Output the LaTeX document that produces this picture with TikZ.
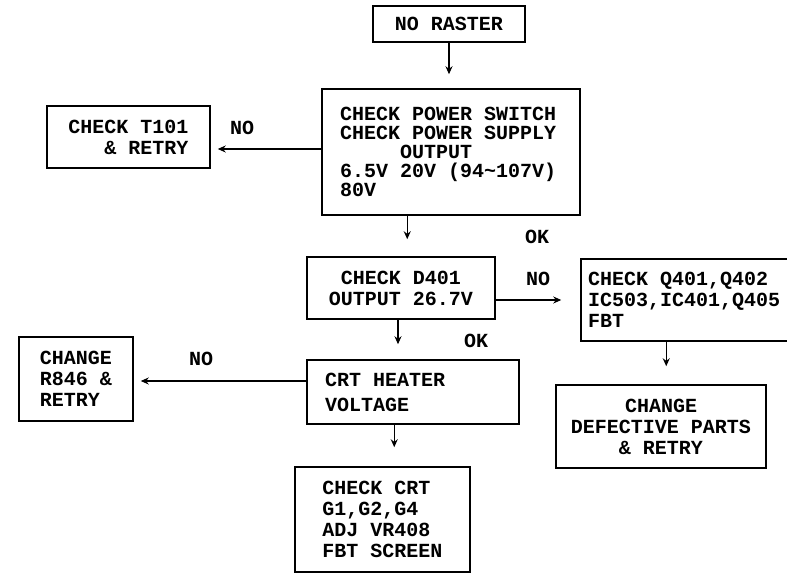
\documentclass[tikz,border=0pt]{standalone}
\usepackage{fontspec}
\setmainfont{Liberation Mono}[WordSpace={1,0,0}]
\usetikzlibrary{arrows.meta,calc}
\newcommand{\monosp}{\spaceskip=0.6em\relax\xspaceskip=0.6em\relax}
\begin{document}
\begin{tikzpicture}[x=1pt,y=-1pt,
  box/.style={draw, line width=1.5pt, inner sep=0pt},
  f19/.style={font=\bfseries\fontsize{20}{19}\selectfont},
  f21/.style={font=\bfseries\fontsize{20}{21}\selectfont},
  f25/.style={font=\bfseries\fontsize{20}{25}\selectfont},
  lbl/.style={font=\bfseries\fontsize{20}{20}\selectfont, inner sep=0pt},
  arr/.style={line width=1.3pt, -{Stealth[length=8pt,width=7pt]}}]
\useasboundingbox (0,0) rectangle (787,575);
\fill[white] (0,0) rectangle (787,575);

\node[box, f21, minimum width=152, minimum height=36] (raster) at (449,24) {NO RASTER};
\node[box, f19, text width=222, inner xsep=18, minimum height=126, align=left] (box2) at (451,152)
  {\monosp CHECK POWER SWITCH\\CHECK POWER SUPPLY\\\phantom{CHECK}OUTPUT\\6.5V 20V (94\textasciitilde 107V)\\80V};
\node[box, f21, minimum width=163, minimum height=62, align=right] (t101) at (128.5,137) {\monosp CHECK T101\\\& RETRY};
\node[box, f21, minimum width=188, minimum height=62, align=center] (d401) at (401,288) {\monosp CHECK D401\\OUTPUT 26.7V};
\node[box, f21, text width=197, inner xsep=7, minimum height=82, align=left] (q401) at (686.5,300)
  {\monosp CHECK Q401,Q402\\IC503,IC401,Q405\\FBT\par\vspace*{12pt}};
\node[box, f21, minimum width=210, minimum height=83, align=center] (cdp) at (661,426.5) {\monosp CHANGE\\DEFECTIVE PARTS\\\& RETRY};
\node[box, f21, minimum width=114, minimum height=84, align=left] (r846) at (76,379) {\monosp CHANGE\\R846 \&\\RETRY};
\node[box, f25, text width=176, inner xsep=18, minimum height=64, align=left] (crth) at (413,392) {\monosp CRT HEATER\\VOLTAGE};
\node[box, f21, minimum width=175, minimum height=105, align=left] (ccrt) at (382.5,519.5) {\monosp CHECK CRT\\G1,G2,G4\\ADJ VR408\\FBT SCREEN};

\node[lbl] (no1) at (242,128) {NO};
\node[lbl] (ok1) at (537,237) {OK};
\node[lbl] (no2) at (538,279) {NO};
\node[lbl] (ok2) at (476,341) {OK};
\node[lbl] (no3) at (201,359) {NO};

\draw[arr, shorten >=14pt] (raster.south) -- (raster.south |- box2.north);
\coordinate (b2L) at ($(box2.west)+(0,-3)$);
\draw[arr, shorten >=7pt] (b2L) -- (b2L -| t101.east);
\coordinate (b2B) at ($(box2.south west)+(86,0)$);
\draw[arr, shorten >=17pt] (b2B) -- (b2B |- d401.north);
\coordinate (dR) at ($(d401.east)+(0,12)$);
\draw[arr, shorten >=19pt] (dR) -- (dR -| q401.west);
\coordinate (dB) at ($(d401.south)+(-3,0)$);
\draw[arr, shorten >=15pt] (dB) -- (dB |- crth.north);
\coordinate (qB) at ($(q401.south west)+(86,0)$);
\draw[arr, shorten >=18pt] (qB) -- (qB |- cdp.north);
\coordinate (cL) at ($(crth.west)+(0,-11)$);
\draw[arr, shorten >=7pt] (cL) -- (cL -| r846.east);
\coordinate (cB) at ($(crth.south west)+(88,0)$);
\draw[arr, shorten >=19pt] (cB) -- (cB |- ccrt.north);
\end{tikzpicture}
\end{document}
